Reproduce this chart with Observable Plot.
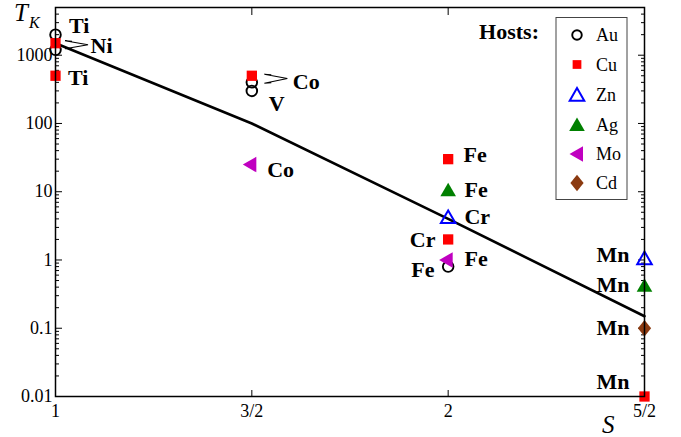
<!DOCTYPE html>
<html><head><meta charset="utf-8">
<script src="https://cdn.jsdelivr.net/npm/d3@7"></script>
<script src="https://cdn.jsdelivr.net/npm/@observablehq/plot@0.6"></script>
<style>
body{margin:0;background:#fff}
#chart{position:relative;width:681px;height:437px}
svg text{font-family:"Liberation Serif","Times New Roman",Times,"DejaVu Serif",serif}
</style></head><body><div id="chart"></div>
<script>
// ---- data ----
const hosts = ["Au","Cu","Zn","Ag","Mo","Cd"];
const pointHost = ["Au","Cu","Au","Cu", "Cu","Au","Au","Mo", "Cu","Ag","Zn","Cu","Mo","Au", "Zn","Ag","Cd","Cu"];
const pointS    = [1,1,1,1, 1.5,1.5,1.5,1.5, 2,2,2,2,2,2, 2.5,2.5,2.5,2.5];
const pointTK   = [2000,1500,1200,500, 500,400,300,25, 30,10,4,2,1,0.8, 1,0.4,0.1,0.01];
const labelText = ["Ti","Ni","Ti","Co","V","Co","Fe","Fe","Cr","Cr","Fe","Fe","Mn","Mn","Mn","Mn"];
const labelS    = [1,1,1,1.5,1.5,1.5,2,2,2,2,2,2,2.5,2.5,2.5,2.5];
const labelTK   = [2000,1500,500,500,300,25,30,10,4,2,1,0.8,1,0.4,0.1,0.01];
const lineS  = [1, 1.5, 2, 2.5];
const lineTK = [1500, 100, 4, 0.15];
const xTicks = [1, 1.5, 2, 2.5];
const xTickLabels = ["1","3/2","2","5/2"];
const yTicks = [0.01, 0.1, 1, 10, 100, 1000];
const yTickLabels = ["0.01","0.1","1","10","100","1000"];

// ---- layout (pixel offsets for labels: dx, dy, anchor) ----
const labelOffsets = [
  [13.5,-8.5,"start"],[35,3,"start"],[12.5,2.3,"start"],[41,5.7,"start"],[17,13.3,"start"],[15.3,5.7,"start"],
  [15.3,-3.8,"start"],[16.3,-1.3,"start"],[16.3,-2,"start"],[-12.7,1,"end"],[16.3,-1,"start"],[-13.7,3.8,"end"],
  [-15,-5,"end"],[-15,-2.6,"end"],[-15,0,"end"],[-15,-15,"end"]
];
const FONT = '"Liberation Serif","Times New Roman",Times,"DejaVu Serif",serif';

const diamond = {draw(ctx, size){const a=Math.sqrt(size/2.5), b=1.25*a; ctx.moveTo(0,-b); ctx.lineTo(a,0); ctx.lineTo(0,b); ctx.lineTo(-a,0); ctx.closePath();}};
const hostStyle = {
  Au: {symbol:"circle", fill:"none", stroke:"black", strokeWidth:1.9, r:5.3},
  Cu: {symbol:"square", fill:"#ff0000", stroke:"none", r:5.8},
  Zn: {symbol:"triangle", fill:"none", stroke:"#0000ff", strokeWidth:2, r:5.4},
  Ag: {symbol:"triangle", fill:"#008000", stroke:"none", r:5.8},
  Mo: {symbol:"triangle", fill:"#c000c0", stroke:"none", r:5.8, rotate:-90},
  Cd: {symbol:diamond, fill:"#8b3a10", stroke:"none", r:5.9}
};

const points = pointHost.map((h,i)=>({host:h, S:pointS[i], TK:pointTK[i]}));
const labels = labelText.map((t,i)=>({text:t, S:labelS[i], TK:labelTK[i]}));
const lineData = lineS.map((s,i)=>({S:s, TK:lineTK[i]}));

const minorTicks = [];
for (let e=-2; e<=3; e++) for (let m=2; m<=9; m++) { const v=m*Math.pow(10,e); if (v<=5000) minorTicks.push(v); }

const drawOrder = ["Au","Cu","Zn","Ag","Mo","Cd"];
const dotMarks = drawOrder.map(h => Plot.dot(points.filter(d=>d.host===h), {x:"S", y:"TK", ...hostStyle[h]}));
const textMarks = labels.map((d,i)=>Plot.text([d], {x:"S", y:"TK", text:"text", dx:labelOffsets[i][0], dy:labelOffsets[i][1], textAnchor:labelOffsets[i][2], fontSize:22, fontWeight:"bold", fill:"black", fontFamily:FONT}));

const plot = Plot.plot({
  width:681, height:437,
  marginLeft:55, marginRight:37, marginTop:7, marginBottom:41,
  style:{fontFamily:FONT, fontSize:"18px", color:"black", background:"white"},
  x:{domain:[1,2.5], label:null},
  y:{type:"log", domain:[0.01,5000], label:null},
  marks:[
    Plot.axisY({anchor:"left", ticks:yTicks, tickSize:0, tickPadding:3, tickFormat:d=>yTickLabels[yTicks.indexOf(d)], label:null, fontSize:18}),
    Plot.axisY({anchor:"left", ticks:yTicks, tickSize:-7, text:null, label:null}),
    Plot.axisY({anchor:"left", ticks:minorTicks, tickSize:-4, text:null, label:null}),
    Plot.axisY({anchor:"right", ticks:yTicks, tickSize:-7, text:null, label:null}),
    Plot.axisY({anchor:"right", ticks:minorTicks, tickSize:-4, text:null, label:null}),
    Plot.axisX({anchor:"bottom", ticks:xTicks, tickSize:0, tickPadding:8, tickFormat:d=>xTickLabels[xTicks.indexOf(d)], label:null, fontSize:18}),
    Plot.axisX({anchor:"bottom", ticks:[1.5,2], tickSize:-6, text:null, label:null}),
    Plot.axisX({anchor:"top", ticks:[1.5,2], tickSize:-7, text:null, label:null}),
    Plot.line(lineData, {x:"S", y:"TK", stroke:"black", strokeWidth:2.6}),
    ...dotMarks,
    ...textMarks,
    Plot.frame({stroke:"black", strokeWidth:1.5})
  ]
});
document.getElementById("chart").appendChild(plot);

// ---- overlays: connectors, axis titles, legend ----
const svg = d3.select(plot);
const xs = plot.scale("x"), ys = plot.scale("y");
function connector(S, TK, vx, vy, e1, e2, ex){
  const x0 = xs.apply(S), y0 = ys.apply(TK);
  const g = svg.append("g").attr("fill","none").attr("stroke","black").attr("stroke-width",1.1);
  const p = `M${x0+ex},${y0+e1}L${x0+vx},${y0+vy}L${x0+ex},${y0+e2}` +
            `M${x0+ex},${y0+e1}l7,0.5M${x0+ex},${y0+e2}l7,-0.5`;
  g.append("path").attr("d", p);
}
connector(1, 1500, 33, 2, -2, 6, 10);
connector(1.5, 500, 36, 3.3, -1, 8, 13);

const t = svg.append("text").attr("x",14).attr("y",21).attr("text-anchor","start").attr("font-family",FONT).attr("font-style","italic").attr("font-size",25).attr("fill","black");
t.append("tspan").text("T");
t.append("tspan").attr("dy",7).attr("dx",1).attr("font-size",16).text("K");
svg.append("text").attr("x",602).attr("y",433).attr("text-anchor","start").attr("font-family",FONT).attr("font-style","italic").attr("font-size",25).attr("fill","black").text("S");

svg.append("text").attr("x",539).attr("y",39).attr("text-anchor","end").attr("font-family",FONT).attr("font-weight","bold").attr("font-size",22).attr("fill","black").text("Hosts:");
const lg = svg.append("g").attr("text-anchor","start");
lg.append("rect").attr("x",556).attr("y",17.5).attr("width",71).attr("height",182).attr("fill","white").attr("stroke","#444").attr("stroke-width",1);
const d3sym = {circle:d3.symbolCircle, square:d3.symbolSquare, triangle:d3.symbolTriangle};
const legendY = [35, 64.5, 95, 125, 154, 183];
hosts.forEach((h,i)=>{
  const st = hostStyle[h];
  const type = typeof st.symbol === "string" ? d3sym[st.symbol] : st.symbol;
  const r = st.r * (h==="Au" ? 0.9 : h==="Cu" ? 0.85 : 1);
  const yOff = st.symbol === "triangle" && !st.rotate ? 1.5 : 0;
  const xOff = st.rotate ? 1.5 : 0;
  lg.append("path").attr("d", d3.symbol().type(type).size(Math.PI*r*r)())
    .attr("transform", `translate(${577+xOff},${legendY[i]+yOff})` + (st.rotate?` rotate(${st.rotate})`:""))
    .attr("fill", st.fill).attr("stroke", st.stroke).attr("stroke-width", st.strokeWidth||0);
  lg.append("text").attr("x",596).attr("y",legendY[i]+6).attr("text-anchor","start").attr("font-family",FONT).attr("font-size",18).attr("fill","black").text(h);
});
</script></body></html>
